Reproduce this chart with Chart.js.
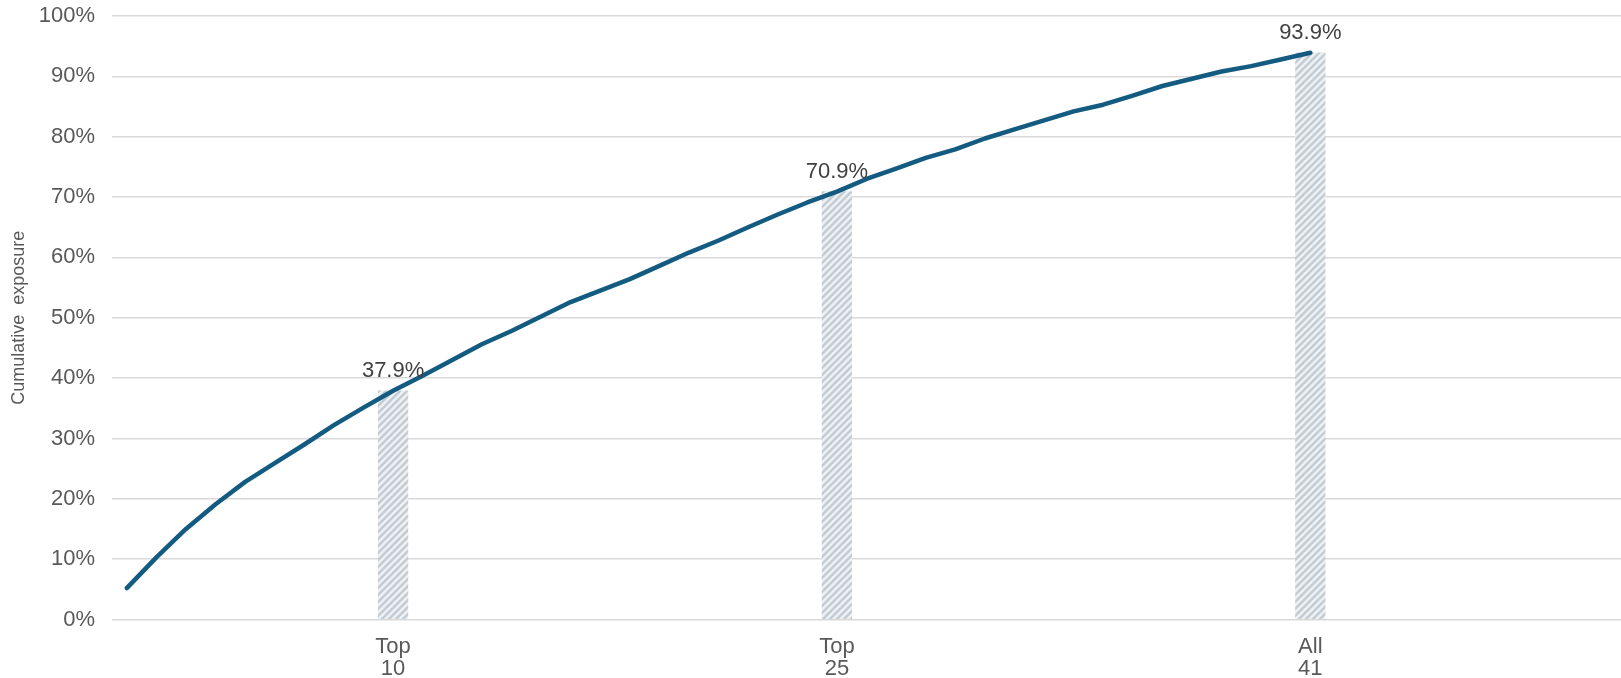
<!DOCTYPE html>
<html>
<head>
<meta charset="utf-8">
<title>Cumulative exposure</title>
<script src="https://cdn.jsdelivr.net/npm/chart.js@4"></script>
<style>
  html, body { margin: 0; padding: 0; background: #ffffff; overflow: hidden; }
  #wrap { width: 1621px; height: 678px; position: relative; }
</style>
</head>
<body>
<div id="wrap"><canvas id="chart"></canvas></div>
<script>
// Positions 1..51 along the x axis (one per obligor rank, with spare room on the right)
const categories = [
  1, 2, 3, 4, 5, 6, 7, 8, 9, 10,
  11, 12, 13, 14, 15, 16, 17, 18, 19, 20,
  21, 22, 23, 24, 25, 26, 27, 28, 29, 30,
  31, 32, 33, 34, 35, 36, 37, 38, 39, 40,
  41, 42, 43, 44, 45, 46, 47, 48, 49, 50, 51
];

// Cumulative exposure (%) for the top-N obligors, N = 1..41
const cumulative = [
  5.2, 10.3, 15.0, 19.1, 22.8, 25.9, 29.0, 32.2, 35.1, 37.9,
  40.4, 43.0, 45.6, 47.8, 50.2, 52.6, 54.5, 56.4, 58.6, 60.8,
  62.8, 65.0, 67.1, 69.1, 70.9, 73.0, 74.7, 76.5, 77.9, 79.7,
  81.2, 82.7, 84.2, 85.3, 86.8, 88.4, 89.6, 90.8, 91.7, 92.8, 93.9
];

// Highlighted milestones
const markerPositions = [10, 25, 41];
const markerValues = [37.9, 70.9, 93.9];
const markerLabels = [['Top', '10'], ['Top', '25'], ['All', '41']];

const yTicks = [0, 10, 20, 30, 40, 50, 60, 70, 80, 90, 100];

const barData = categories.map(c => {
  const i = markerPositions.indexOf(c);
  return i >= 0 ? markerValues[i] : null;
});

function hatchPattern() {
  const s = 7;
  const c = document.createElement('canvas');
  c.width = s; c.height = s;
  const g = c.getContext('2d');
  g.fillStyle = '#eef1f3';
  g.fillRect(0, 0, s, s);
  g.strokeStyle = '#c3cbd3';
  g.lineWidth = 2.4;
  g.beginPath();
  g.moveTo(0, s); g.lineTo(s, 0);
  g.moveTo(-s / 2, s / 2); g.lineTo(s / 2, -s / 2);
  g.moveTo(s / 2, s * 1.5); g.lineTo(s * 1.5, s / 2);
  g.stroke();
  return g.createPattern(c, 'repeat');
}

// Value labels above the milestone bars
const barValueLabels = {
  id: 'barValueLabels',
  afterDatasetsDraw(chart) {
    const meta = chart.getDatasetMeta(1);
    const ctx = chart.ctx;
    ctx.save();
    ctx.font = '22px "Liberation Sans", Arial, sans-serif';
    ctx.fillStyle = '#404040';
    ctx.textAlign = 'center';
    ctx.textBaseline = 'middle';
    meta.data.forEach((el, i) => {
      const v = barData[i];
      if (v === null || v === undefined) return;
      ctx.fillText(v.toFixed(1) + '%', el.x, el.y - 20);
    });
    ctx.restore();
  }
};

new Chart(document.getElementById('chart'), {
  type: 'bar',
  data: {
    labels: categories,
    datasets: [
      {
        type: 'line',
        label: 'Cumulative exposure',
        data: cumulative,
        borderColor: '#135b81',
        borderWidth: 4.5,
        borderCapStyle: 'round',
        borderJoinStyle: 'round',
        pointRadius: 0,
        tension: 0,
        fill: false,
        order: 0
      },
      {
        type: 'bar',
        label: 'Milestones',
        data: barData,
        backgroundColor: hatchPattern(),
        borderWidth: 0,
        barPercentage: 1.0,
        categoryPercentage: 1.0,
        order: 1
      }
    ]
  },
  options: {
    responsive: true,
    maintainAspectRatio: false,
    animation: false,
    layout: { padding: { top: 16, right: 0, left: 0, bottom: 0 } },
    plugins: {
      legend: { display: false },
      tooltip: { enabled: false }
    },
    scales: {
      x: {
        offset: true,
        grid: { display: false, drawTicks: false },
        border: { display: false },
        ticks: {
          autoSkip: false,
          maxRotation: 0,
          padding: 16,
          color: '#595959',
          font: { family: '"Liberation Sans", Arial, sans-serif', size: 22, lineHeight: 1.02 },
          callback(value, index) {
            const i = markerPositions.indexOf(categories[index]);
            return i >= 0 ? markerLabels[i] : '';
          }
        },
        afterFit(scale) {
          scale.height = 58.5;
          scale.paddingLeft = 0;
          scale.paddingRight = 0;
        }
      },
      y: {
        min: 0,
        max: 100,
        afterBuildTicks(scale) { scale.ticks = yTicks.map(v => ({ value: v })); },
        grid: { color: '#d9d9d9', lineWidth: 1.5, drawTicks: false },
        border: { display: false },
        ticks: {
          padding: 17,
          color: '#595959',
          font: { family: '"Liberation Sans", Arial, sans-serif', size: 22 },
          callback: v => v + '%'
        },
        title: {
          display: true,
          text: 'Cumulative  exposure',
          color: '#595959',
          font: { family: '"Liberation Sans", Arial, sans-serif', size: 18 },
          padding: { top: 8, bottom: 0 }
        },
        afterFit(scale) {
          scale.width = 112;
          scale.paddingTop = 0;
          scale.paddingBottom = 0;
        }
      }
    }
  },
  plugins: [barValueLabels]
});
</script>
</body>
</html>
